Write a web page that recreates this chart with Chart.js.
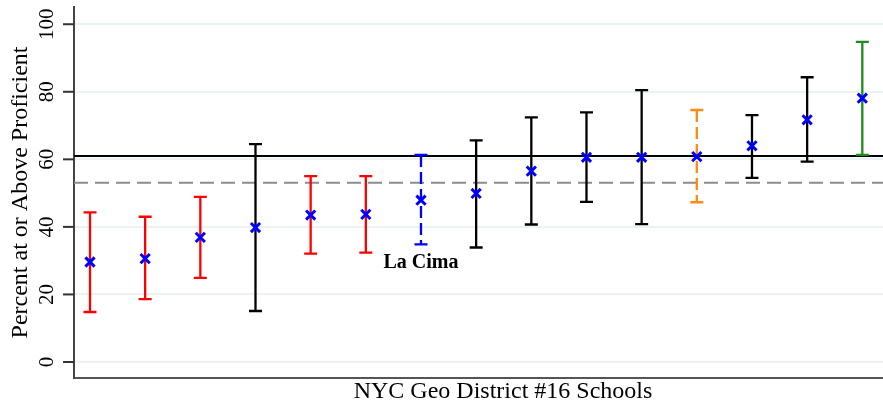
<!DOCTYPE html>
<html lang="en">
<head>
    <meta charset="UTF-8">
    <title>NYC Geo District #16 Schools</title>
    <script src="https://cdn.jsdelivr.net/npm/chart.js"></script>
    <style>
        html, body { margin: 0; padding: 0; background: #fff; }
    </style>
</head>
<body>
    <canvas id="graph" width="883" height="403"></canvas>

    <script>
        // school positions along the x axis (sorted by mean)
        const schools = [1, 2, 3, 4, 5, 6, 7, 8, 9, 10, 11, 12, 13, 14, 15];
        const means = [29.6, 30.6, 36.9, 39.8, 43.5, 43.7, 47.9, 49.9, 56.5, 60.6, 60.6, 60.8, 64.0, 71.7, 78.1];
        const lower = [14.8, 18.6, 24.9, 15.1, 32.1, 32.4, 34.8, 33.9, 40.7, 47.4, 40.8, 47.3, 54.5, 59.3, 61.3];
        const upper = [44.3, 43.0, 48.9, 64.5, 55.0, 55.0, 61.3, 65.6, 72.4, 73.9, 80.5, 74.6, 73.1, 84.3, 94.8];
        const barGroup = ["low", "low", "low", "mid", "low", "low", "lacima", "mid", "mid", "mid", "mid", "ref", "mid", "mid", "high"];
        const yTicks = [0, 20, 40, 60, 80, 100];
        const solidLine = 61.0;   // solid reference line
        const dashedLine = 53.1;  // dashed reference line

        const groupColor = { low: "#ff0000", mid: "#000000", lacima: "#0000ff", ref: "#ff8a14", high: "#1f8a1f" };
        const groupDashed = { lacima: true, ref: true };

        const serif = '"Liberation Serif", "Times New Roman", serif';

        const errorBars = {
            id: "errorBars",
            beforeDatasetsDraw(chart) {
                const { ctx, chartArea, scales: { x, y } } = chart;
                ctx.save();

                // reference lines
                ctx.lineWidth = 2;
                ctx.strokeStyle = "#000";
                ctx.beginPath();
                ctx.moveTo(chartArea.left, y.getPixelForValue(solidLine));
                ctx.lineTo(chartArea.right, y.getPixelForValue(solidLine));
                ctx.stroke();

                ctx.strokeStyle = "#8c8c8c";
                ctx.setLineDash([14, 7]);
                ctx.beginPath();
                ctx.moveTo(chartArea.left, y.getPixelForValue(dashedLine));
                ctx.lineTo(chartArea.right, y.getPixelForValue(dashedLine));
                ctx.stroke();

                // error bars
                schools.forEach((s, i) => {
                    const px = x.getPixelForValue(s);
                    const top = y.getPixelForValue(upper[i]);
                    const bot = y.getPixelForValue(lower[i]);
                    const g = barGroup[i];
                    ctx.strokeStyle = groupColor[g];
                    ctx.lineWidth = 2.3;
                    ctx.setLineDash(groupDashed[g] ? [12, 5] : []);
                    ctx.beginPath();
                    ctx.moveTo(px, top);
                    ctx.lineTo(px, bot);
                    ctx.stroke();
                    ctx.setLineDash([]);
                    ctx.beginPath();
                    ctx.moveTo(px - 6.5, top);
                    ctx.lineTo(px + 6.5, top);
                    ctx.moveTo(px - 6.5, bot);
                    ctx.lineTo(px + 6.5, bot);
                    ctx.stroke();
                });
                ctx.restore();
            },
            afterDraw(chart) {
                const { ctx, chartArea, scales: { x, y } } = chart;
                ctx.save();

                // y ticks + rotated labels
                ctx.strokeStyle = "#333";
                ctx.lineWidth = 2;
                ctx.fillStyle = "#000";
                ctx.font = "21px " + serif;
                ctx.textAlign = "center";
                ctx.textBaseline = "alphabetic";
                yTicks.forEach(v => {
                    const py = y.getPixelForValue(v);
                    ctx.beginPath();
                    ctx.moveTo(chartArea.left - 11, py);
                    ctx.lineTo(chartArea.left, py);
                    ctx.stroke();
                    ctx.save();
                    ctx.translate(53, py);
                    ctx.rotate(-Math.PI / 2);
                    ctx.fillText(String(v), 0, 0);
                    ctx.restore();
                });

                // axis titles
                ctx.font = "24px " + serif;
                ctx.save();
                ctx.translate(27, (chartArea.top + chartArea.bottom) / 2);
                ctx.rotate(-Math.PI / 2);
                ctx.fillText("Percent at or Above Proficient", 0, 0);
                ctx.restore();
                ctx.fillText("NYC Geo District #16 Schools", 503, 398);

                // La Cima label under its bar
                const i = barGroup.indexOf("lacima");
                ctx.font = "bold 20px " + serif;
                ctx.fillText("La Cima", x.getPixelForValue(schools[i]), y.getPixelForValue(lower[i]) + 24);
                ctx.restore();
            }
        };

        const ctx = document.getElementById("graph").getContext("2d");
        new Chart(ctx, {
            type: "scatter",
            data: {
                datasets: [{
                    data: schools.map((s, i) => ({ x: s, y: means[i] })),
                    pointStyle: "crossRot",
                    pointRadius: 6.5,
                    pointHoverRadius: 6.5,
                    borderColor: "#0000ff",
                    backgroundColor: "#0000ff",
                    pointBorderWidth: 3
                }]
            },
            options: {
                responsive: false,
                animation: false,
                devicePixelRatio: 1,
                layout: { autoPadding: false, padding: { top: 7, right: 0, left: 0, bottom: 0 } },
                plugins: { legend: { display: false }, tooltip: { enabled: false } },
                scales: {
                    x: {
                        type: "linear",
                        min: 0.71,
                        max: 15.375,
                        grid: { display: false, drawTicks: false },
                        ticks: { display: false },
                        border: { display: true, color: "#555", width: 2 },
                        afterFit(scale) { scale.height = 25; }
                    },
                    y: {
                        min: -4.74,
                        max: 105.1,
                        grid: { color: "#eaf2f3", lineWidth: 2, drawTicks: false },
                        ticks: { display: false },
                        border: { display: true, color: "#444", width: 2 },
                        afterBuildTicks(scale) { scale.ticks = yTicks.map(v => ({ value: v })); },
                        afterFit(scale) { scale.width = 74; }
                    }
                }
            },
            plugins: [errorBars]
        });
    </script>
</body>
</html>
